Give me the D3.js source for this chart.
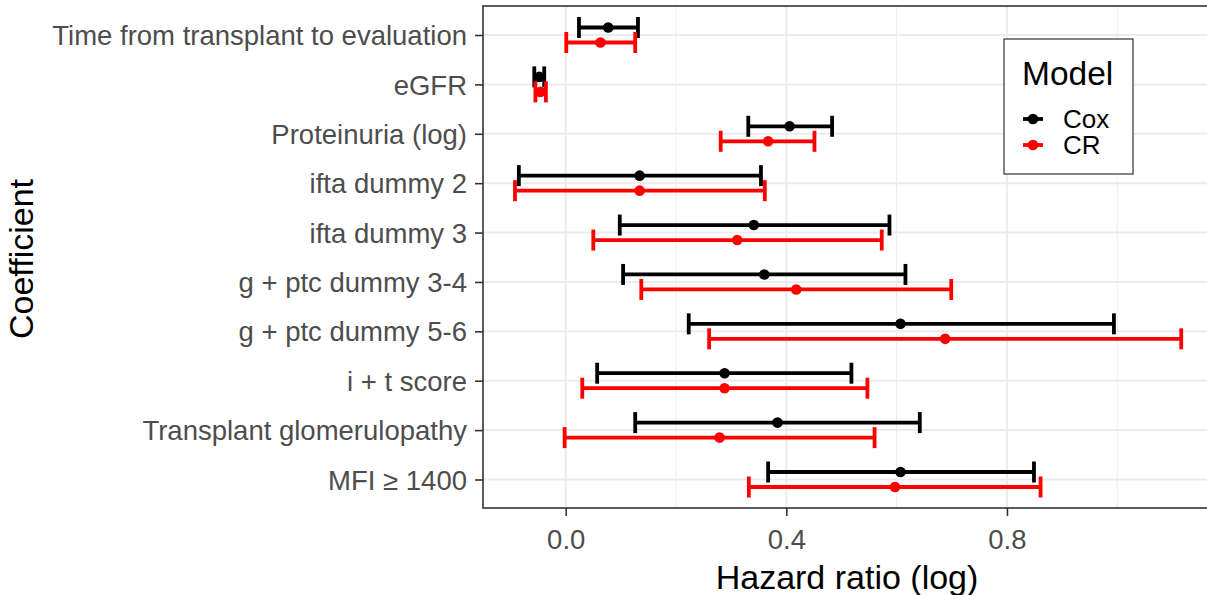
<!DOCTYPE html>
<html>
<head>
<meta charset="utf-8">
<script src="https://cdn.jsdelivr.net/npm/d3@7"></script>
<style>
  html, body { margin: 0; padding: 0; background: #fff; }
  svg { display: block; font-family: "Liberation Sans", Arial, sans-serif; }
</style>
</head>
<body>
<svg id="chart" width="1207" height="595"></svg>
<script>
// Coefficients, top to bottom
const coefficients = [
  "Time from transplant to evaluation",
  "eGFR",
  "Proteinuria (log)",
  "ifta dummy 2",
  "ifta dummy 3",
  "g + ptc dummy 3-4",
  "g + ptc dummy 5-6",
  "i + t score",
  "Transplant glomerulopathy",
  "MFI \u2265 1400"
];

const models = ["Cox", "CR"];
const modelColors = ["#000000", "#FF0000"];

// Cox model: estimate and 95% interval (log hazard ratio)
const coxEstimate = [0.077, -0.048, 0.406, 0.134, 0.341, 0.360, 0.607, 0.288, 0.384, 0.607];
const coxLower    = [0.024, -0.057, 0.331, -0.085, 0.098, 0.104, 0.223, 0.057, 0.126, 0.367];
const coxUpper    = [0.131, -0.039, 0.483, 0.354, 0.587, 0.616, 0.994, 0.518, 0.642, 0.849];

// Competing risks model
const crEstimate = [0.063, -0.046, 0.367, 0.134, 0.311, 0.418, 0.688, 0.288, 0.279, 0.597];
const crLower    = [0.001, -0.055, 0.281, -0.092, 0.050, 0.137, 0.260, 0.030, -0.002, 0.332];
const crUpper    = [0.126, -0.036, 0.451, 0.361, 0.573, 0.699, 1.116, 0.547, 0.560, 0.861];

const xTicks = [0.0, 0.4, 0.8];
const xMinorTicks = [0.2, 0.6, 1.0];

const rows = [];
coefficients.forEach((c, i) => {
  rows.push({ coef: c, model: "Cox", est: coxEstimate[i], lo: coxLower[i], hi: coxUpper[i] });
  rows.push({ coef: c, model: "CR", est: crEstimate[i], lo: crLower[i], hi: crUpper[i] });
});

const svg = d3.select("#chart");
const panel = { left: 483, right: 1211, top: 6, bottom: 508 };

const x = d3.scaleLinear().domain([-0.15, 1.17]).range([panel.left, panel.right]);
const y = d3.scalePoint().domain(coefficients).range([35, 479.5]);
const color = d3.scaleOrdinal().domain(models).range(modelColors);
const dodge = d3.scaleOrdinal().domain(models).range([-7.5, 7.5]);

// Panel background
svg.append("rect")
  .attr("x", panel.left).attr("y", panel.top)
  .attr("width", panel.right - panel.left).attr("height", panel.bottom - panel.top)
  .attr("fill", "#fff");

// Grid lines
const grid = svg.append("g");
grid.selectAll(".minor").data(xMinorTicks).join("line")
  .attr("x1", d => x(d)).attr("x2", d => x(d))
  .attr("y1", panel.top).attr("y2", panel.bottom)
  .attr("stroke", "#EBEBEB").attr("stroke-width", 1);
grid.selectAll(".majorx").data(xTicks).join("line")
  .attr("x1", d => x(d)).attr("x2", d => x(d))
  .attr("y1", panel.top).attr("y2", panel.bottom)
  .attr("stroke", "#EBEBEB").attr("stroke-width", 2);
grid.selectAll(".majory").data(coefficients).join("line")
  .attr("x1", panel.left).attr("x2", panel.right)
  .attr("y1", d => y(d)).attr("y2", d => y(d))
  .attr("stroke", "#EBEBEB").attr("stroke-width", 2);

// Error bars
const marks = svg.append("g");
const bars = marks.selectAll("g.bar").data(rows).join("g")
  .attr("transform", d => `translate(0,${y(d.coef) + dodge(d.model)})`)
  .attr("stroke", d => color(d.model))
  .attr("stroke-width", 3.8);
bars.append("line")
  .attr("x1", d => x(d.lo)).attr("x2", d => x(d.hi))
  .attr("y1", 0).attr("y2", 0);
bars.append("line")
  .attr("x1", d => x(d.lo)).attr("x2", d => x(d.lo))
  .attr("y1", -10.5).attr("y2", 10.5);
bars.append("line")
  .attr("x1", d => x(d.hi)).attr("x2", d => x(d.hi))
  .attr("y1", -10.5).attr("y2", 10.5);
bars.append("circle")
  .attr("cx", d => x(d.est)).attr("cy", 0).attr("r", 5.3)
  .attr("stroke", "none").attr("fill", d => color(d.model));

// Panel border
svg.append("rect")
  .attr("x", panel.left).attr("y", panel.top)
  .attr("width", panel.right - panel.left).attr("height", panel.bottom - panel.top)
  .attr("fill", "none").attr("stroke", "#333333").attr("stroke-width", 1.6);

// Axes
const xAxis = svg.append("g")
  .attr("transform", `translate(0,${panel.bottom})`)
  .call(d3.axisBottom(x).tickValues(xTicks).tickFormat(d3.format(".1f")).tickSize(8).tickPadding(12));
const yAxis = svg.append("g")
  .attr("transform", `translate(${panel.left},0)`)
  .call(d3.axisLeft(y).tickSize(8).tickPadding(8));
[xAxis, yAxis].forEach(a => {
  a.select(".domain").remove();
  a.selectAll(".tick line").attr("stroke", "#333333").attr("stroke-width", 1.6);
  a.selectAll(".tick text")
    .attr("fill", "#4D4D4D")
    .style("font-size", "27.5px")
    .style("font-family", "'Liberation Sans', Arial, sans-serif");
});
xAxis.selectAll(".tick text").attr("dy", "0.75em");
yAxis.selectAll(".tick text").attr("dy", "0.35em");

// Axis titles
svg.append("text")
  .attr("x", (panel.left + panel.right) / 2).attr("y", 589)
  .attr("text-anchor", "middle")
  .style("font-size", "34px").attr("fill", "#000")
  .text("Hazard ratio (log)");
svg.append("text")
  .attr("transform", `translate(33,${(panel.top + panel.bottom) / 2 + 2}) rotate(-90)`)
  .attr("text-anchor", "middle")
  .style("font-size", "34px").attr("fill", "#000")
  .text("Coefficient");

// Legend
const legend = svg.append("g");
legend.append("rect")
  .attr("x", 1004).attr("y", 39).attr("width", 129).attr("height", 135)
  .attr("fill", "#fff").attr("stroke", "#333333").attr("stroke-width", 1.2);
legend.append("text")
  .attr("x", 1022).attr("y", 85)
  .style("font-size", "33.5px").attr("fill", "#000")
  .text("Model");
const keys = legend.selectAll("g.key").data(models).join("g")
  .attr("transform", (d, i) => `translate(1023,${119 + i * 26})`);
keys.append("line")
  .attr("x1", 0).attr("x2", 20).attr("y1", 0).attr("y2", 0)
  .attr("stroke", d => color(d)).attr("stroke-width", 3.8);
keys.append("circle")
  .attr("cx", 10).attr("cy", 0).attr("r", 5.3)
  .attr("fill", d => color(d));
keys.append("text")
  .attr("x", 40).attr("y", 0).attr("dy", "0.35em")
  .style("font-size", "26px").attr("fill", "#000")
  .text(d => d);
</script>
</body>
</html>
